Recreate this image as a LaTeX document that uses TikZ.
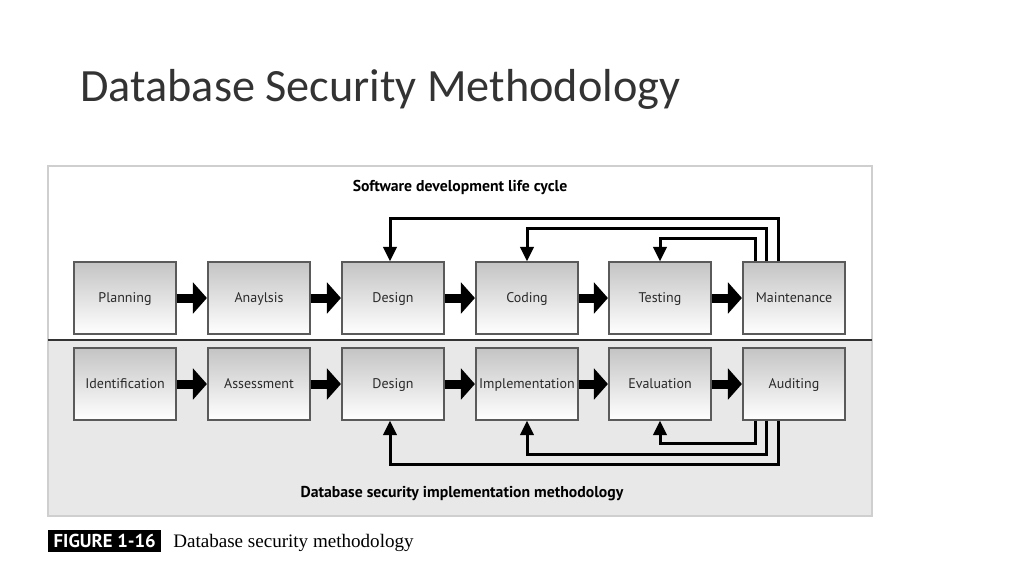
\documentclass[tikz,border=0pt]{standalone}
\usepackage{fontspec}
\setmainfont{Carlito}
\newfontfamily\figfont{PT Sans}
\newfontfamily\capfont{Liberation Serif}
\usetikzlibrary{arrows.meta}
\definecolor{boxline}{HTML}{5A5A5A}
\definecolor{boxtop}{HTML}{C4C4C4}
\definecolor{lowbg}{HTML}{E8E8E8}
\definecolor{frameline}{HTML}{CFCFCF}
\definecolor{boxtext}{HTML}{2A2A2A}
\definecolor{titletext}{HTML}{333333}
\tikzset{
  stepbox/.style={draw=boxline, line width=0.8pt, top color=boxtop, bottom color=white,
    minimum width=76.5pt, minimum height=54pt, inner sep=0pt,
    text height=1.6ex, text depth=0.3ex,
    font=\figfont\fontsize{10.5}{12}\selectfont, text=boxtext},
  bigarrow/.style={line width=6.75pt, -{Triangle[length=10.5pt,width=23pt]}, shorten >=0.4pt},
  fb/.style={line width=2.25pt, -{Triangle[length=11pt,width=10pt]}},
  sectitle/.style={font=\figfont\bfseries\fontsize{11.8}{14}\selectfont, text=black}
}
\begin{document}
\begin{tikzpicture}[x=0.75pt,y=-0.75pt]
\useasboundingbox (0,0) rectangle (1024,576);
\fill[white] (0,0) rectangle (1024,576);
% title
\node[anchor=base west, inner sep=0pt, font=\fontsize{34.7}{42}\selectfont, text=titletext] (title) at (80,101) {Database Security Methodology};
% frame
\fill[white] (48,166) rectangle (872,340);
\fill[lowbg] (48,340) rectangle (872,516);
\draw[frameline, line width=1.5pt] (48,166) rectangle (872,516);
\draw[black!80, line width=1.5pt] (48,340) -- (872,340);
\node[sectitle] (sdlc) at (460,187) {Software development life cycle};
\node[sectitle] (dsim) at (462,494) {Database security implementation methodology};
% top row
\node[stepbox] (plan) at (125,298) {Planning};
\node[stepbox] (anal) at (259,298) {Anaylsis};
\node[stepbox] (design) at (393,298) {Design};
\node[stepbox] (coding) at (527,298) {Coding};
\node[stepbox] (testing) at (660,298) {Testing};
\node[stepbox] (maint) at (794,298) {Maintenance};
% bottom row
\node[stepbox] (ident) at (125,384) {Identification};
\node[stepbox] (assess) at (259,384) {Assessment};
\node[stepbox] (design2) at (393,384) {Design};
\node[stepbox] (impl) at (527,384) {Implementation};
\node[stepbox] (eval) at (660,384) {Evaluation};
\node[stepbox] (audit) at (794,384) {Auditing};
% big arrows
\foreach \a/\b in {plan/anal, anal/design, design/coding, coding/testing, testing/maint,
                   ident/assess, assess/design2, design2/impl, impl/eval, eval/audit}
  \draw[bigarrow] (\a.east) -- (\b.west);
% feedback top
\coordinate (t1) at (0,218);
\coordinate (t2) at (0,228);
\coordinate (t3) at (0,238);
\draw[fb] ([xshift=-12pt]maint.north) |- ([xshift=-2.25pt]design.north |- t1) -- ([xshift=-2.25pt]design.north);
\draw[fb] ([xshift=-21pt]maint.north) |- (coding.north |- t2) -- (coding.north);
\draw[fb] ([xshift=-29.25pt]maint.north) |- (testing.north |- t3) -- (testing.north);
% feedback bottom
\coordinate (b1) at (0,464);
\coordinate (b2) at (0,454);
\coordinate (b3) at (0,443);
\draw[fb] ([xshift=-12pt]audit.south) |- ([xshift=-2.25pt]design2.south |- b1) -- ([xshift=-2.25pt]design2.south);
\draw[fb] ([xshift=-21pt]audit.south) |- (impl.south |- b2) -- (impl.south);
\draw[fb] ([xshift=-29.25pt]audit.south) |- (eval.south |- b3) -- (eval.south);
% caption
\node[fill=black, text=white, anchor=west, inner xsep=0pt, minimum width=84.75pt, minimum height=16.5pt, font=\figfont\bfseries\fontsize{14}{16}\selectfont] (figlab) at (48,541) {FIGURE 1-16};
\node[anchor=west, inner sep=0pt, font=\capfont\fontsize{14.3}{17}\selectfont] (figcap) at (173,543) {Database security methodology};
\end{tikzpicture}
\end{document}
